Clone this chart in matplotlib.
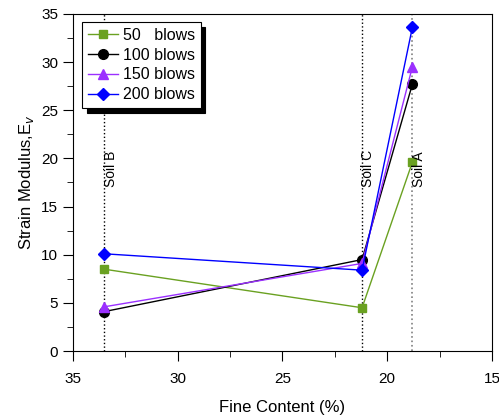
import matplotlib.pyplot as plt
from matplotlib.ticker import MultipleLocator

plt.rcParams['font.family'] = ['Liberation Sans', 'DejaVu Sans']

# === Data ===
fine_content = [33.5, 21.2, 18.8]
soils = ["Soil B", "Soil C", "Soil A"]
blows_50 = [8.5, 4.5, 19.6]
blows_100 = [4.1, 9.5, 27.7]
blows_150 = [4.6, 9.1, 29.5]
blows_200 = [10.1, 8.4, 33.6]

fig = plt.figure(figsize=(4.99, 4.19), dpi=100)
ax = fig.add_axes([0.146, 0.162, 0.84, 0.805])

# vertical soil markers
ax.axvline(fine_content[0], color="black", linestyle=":", lw=1)
ax.axvline(fine_content[1], color="black", linestyle=":", lw=1)
ax.axvline(fine_content[2], color="grey", linestyle=":", lw=1.2)

ax.plot(fine_content, blows_50, color="#6aa121", marker="s", ms=6, lw=1, label="50   blows")
ax.plot(fine_content, blows_100, color="black", marker="o", ms=7, lw=1, label="100 blows")
ax.plot(fine_content, blows_150, color="#9b30ff", marker="^", ms=7, lw=1, label="150 blows")
ax.plot(fine_content, blows_200, color="blue", marker="D", ms=6, lw=1, label="200 blows")

for x, name in zip(fine_content, soils):
    ax.text(x - 0.3, 17.0, name, rotation=90, ha="center", va="bottom", fontsize=10)

ax.set_xlim(35, 15)
ax.set_ylim(0, 35)
ax.xaxis.set_major_locator(MultipleLocator(5))
ax.xaxis.set_minor_locator(MultipleLocator(2.5))
ax.yaxis.set_major_locator(MultipleLocator(5))
ax.yaxis.set_minor_locator(MultipleLocator(2.5))
ax.tick_params(which="major", direction="out", length=7, labelsize=11)
ax.tick_params(which="minor", direction="out", length=4)
ax.tick_params(axis="x", pad=8)

ax.set_xlabel("Fine Content (%)", fontsize=12, labelpad=10)
ax.set_ylabel("Strain Modulus,E$_v$", fontsize=12)

leg = ax.legend(loc="upper left", bbox_to_anchor=(0.022, 0.975), fontsize=11.5,
                fancybox=False, shadow={'ox': 3.5, 'oy': -3.5, 'shade': 1.0, 'alpha': 1},
                framealpha=1, edgecolor="black",
                handlelength=1.9, borderpad=0.35, labelspacing=0.3, handletextpad=0.3,
                borderaxespad=0)
leg.get_frame().set_linewidth(0.8)

plt.savefig("out.png", dpi=100)
